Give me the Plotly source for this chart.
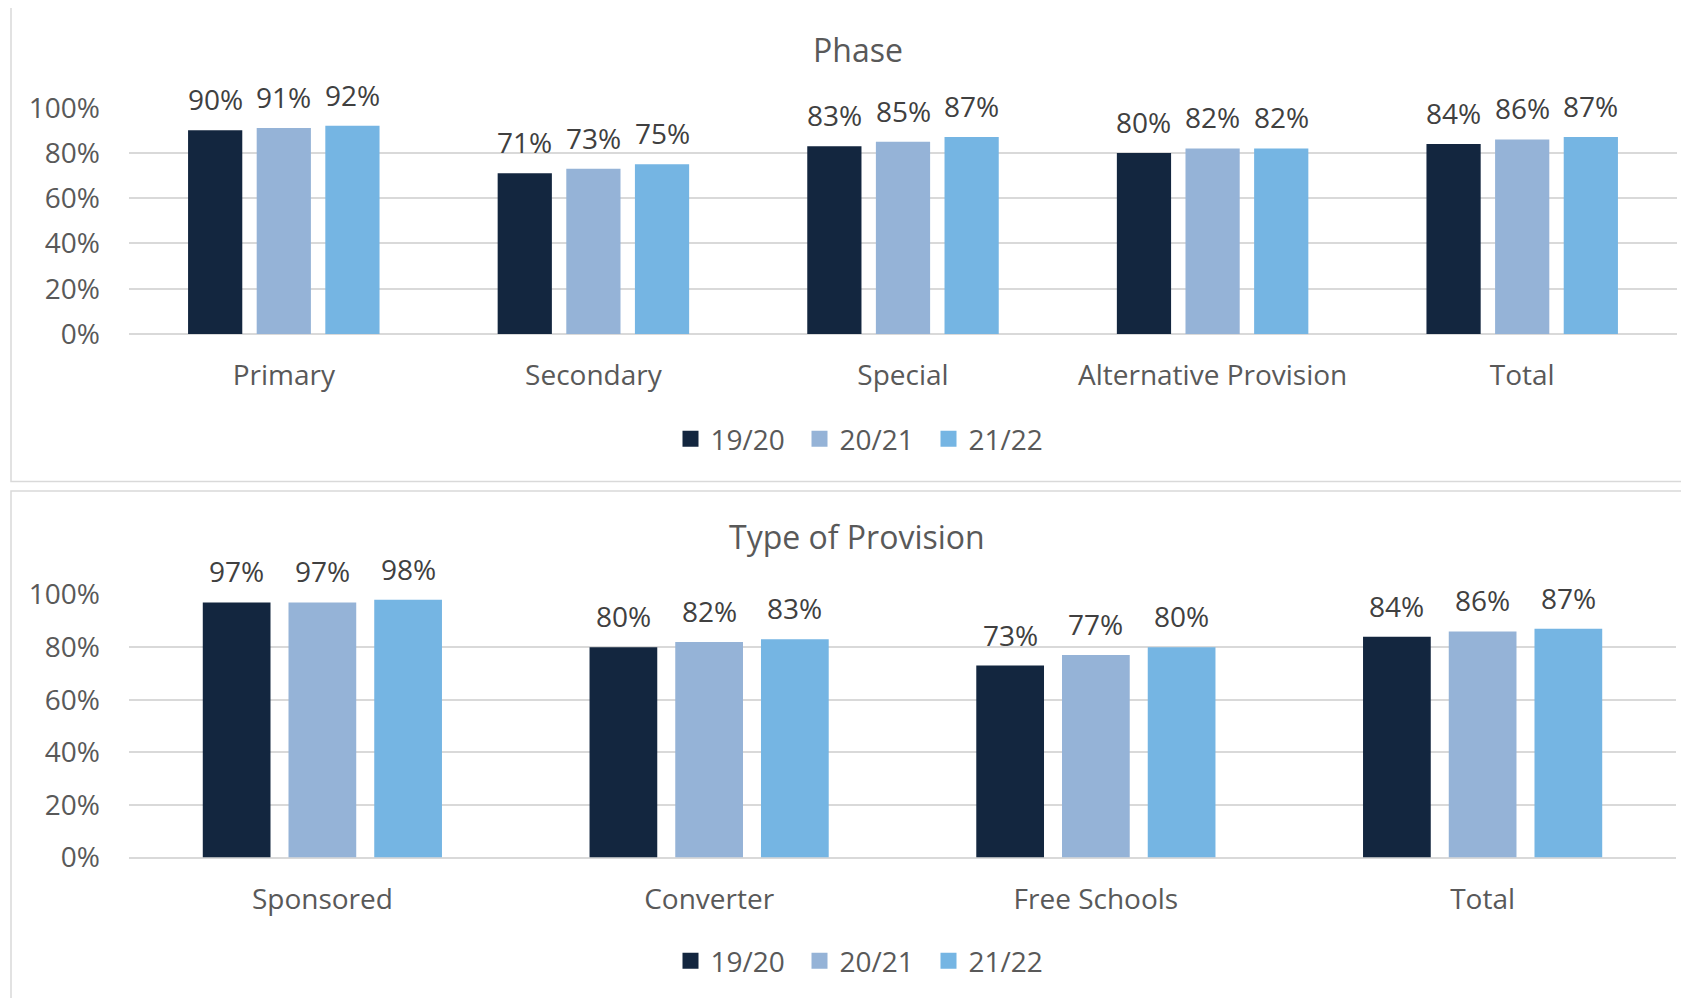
import plotly.graph_objects as go

# page has an 8px body margin; figure sized to fill the rest of the window
OFF = 8
W, H = 1689 - OFF, 998 - OFF

# ---- data ----
series_names = ["19/20", "20/21", "21/22"]
series_colors = ["#13263F", "#95B3D7", "#75B5E3"]

phase_categories = ["Primary", "Secondary", "Special", "Alternative Provision", "Total"]
phase_1920 = [0.90, 0.71, 0.83, 0.80, 0.84]
phase_2021 = [0.91, 0.73, 0.85, 0.82, 0.86]
phase_2122 = [0.92, 0.75, 0.87, 0.82, 0.87]

prov_categories = ["Sponsored", "Converter", "Free Schools", "Total"]
prov_1920 = [0.97, 0.80, 0.73, 0.84]
prov_2021 = [0.97, 0.82, 0.77, 0.86]
prov_2122 = [0.98, 0.83, 0.80, 0.87]

panel_titles = ["Phase", "Type of Provision"]
y_tickvals = [0, 0.2, 0.4, 0.6, 0.8, 1.0]

FONT = "Open Sans"
FS = 28
GREY = "#595959"
LABEL = "#404040"
GRID = "#D9D9D9"
BARGAP = 0.335
BARGROUPGAP = 0.21


def px_x(p):
    return (p - OFF) / W


def px_y(p):
    return 1 - (p - OFF) / H


fig = go.Figure()

panels = [
    (phase_categories, [phase_1920, phase_2021, phase_2122], "x", "y", "legend"),
    (prov_categories, [prov_1920, prov_2021, prov_2122], "x2", "y2", "legend2"),
]

annotations = []
for cats, vals, xa, ya, lg in panels:
    for i, (name, col, v) in enumerate(zip(series_names, series_colors, vals)):
        fig.add_trace(go.Bar(
            x=cats, y=v, name=name, marker=dict(color=col, line=dict(width=0)),
            xaxis=xa, yaxis=ya, showlegend=False, legendgroup=lg + name,
            hoverinfo="x+y+name",
        ))
        # legend entry with a larger square swatch
        fig.add_trace(go.Scatter(
            x=[None], y=[None], mode="markers", name=name,
            marker=dict(symbol="square", size=16, color=col),
            xaxis=xa, yaxis=ya, legend=lg, legendgroup=lg + name, showlegend=True,
        ))
        slot = (1 - BARGAP) / len(series_names)
        off = (i - (len(series_names) - 1) / 2) * slot
        for j, val in enumerate(v):
            annotations.append(dict(
                x=j + off, y=val, xref=xa, yref=ya,
                text=f"{round(val*100)}%", showarrow=False,
                yanchor="bottom", xanchor="center", yshift=10,
                font=dict(family=FONT, size=FS, color=LABEL),
            ))

# titles
annotations.append(dict(x=px_x(858), y=px_y(49), xref="paper", yref="paper",
                        text=panel_titles[0], showarrow=False, xanchor="center", yanchor="middle",
                        font=dict(family=FONT, size=32, color=GREY)))
annotations.append(dict(x=px_x(857), y=px_y(536), xref="paper", yref="paper",
                        text=panel_titles[1], showarrow=False, xanchor="center", yanchor="middle",
                        font=dict(family=FONT, size=32, color=GREY)))

xcommon = dict(showgrid=False, showline=False, zeroline=False, ticks="",
               tickfont=dict(family=FONT, size=FS, color=GREY), ticklabelstandoff=22,
               fixedrange=True, automargin=False)
ycommon = dict(range=[0, 1], tickvals=y_tickvals, tickformat=".0%",
               showgrid=True, gridcolor=GRID, gridwidth=2,
               zeroline=True, zerolinecolor=GRID, zerolinewidth=2,
               showline=False, ticks="", ticklabelstandoff=28,
               tickfont=dict(family=FONT, size=FS, color=GREY), fixedrange=True,
               automargin=False)

legend_common = dict(orientation="h", xanchor="center", yanchor="middle",
                     font=dict(family=FONT, size=FS, color=GREY), bgcolor="rgba(0,0,0,0)",
                     entrywidth=84, itemclick=False, itemdoubleclick=False)

fig.update_layout(
    width=W, height=H, autosize=False,
    margin=dict(l=0, r=0, t=0, b=0, pad=0, autoexpand=False),
    paper_bgcolor="white", plot_bgcolor="white",
    barmode="group", bargap=BARGAP, bargroupgap=BARGROUPGAP,
    font=dict(family=FONT, color=GREY),
    xaxis=dict(domain=[px_x(129), px_x(1677)], anchor="y", **xcommon),
    yaxis=dict(domain=[px_y(334), px_y(107.7)], anchor="x", **ycommon),
    xaxis2=dict(domain=[px_x(129), px_x(1676)], anchor="y2", **xcommon),
    yaxis2=dict(domain=[px_y(857.5), px_y(594.6)], anchor="x2", **ycommon),
    legend=dict(x=px_x(864), y=px_y(439), **legend_common),
    legend2=dict(x=px_x(864), y=px_y(961), **legend_common),
    annotations=annotations,
    shapes=[
        dict(type="rect", xref="paper", yref="paper", x0=px_x(11), x1=1.05,
             y0=px_y(481.5), y1=px_y(4), line=dict(color=GRID, width=1.5), layer="below"),
        dict(type="rect", xref="paper", yref="paper", x0=px_x(11), x1=1.05,
             y0=-0.05, y1=px_y(491), line=dict(color=GRID, width=1.5), layer="below"),
    ],
)

fig.write_html("out.html")
